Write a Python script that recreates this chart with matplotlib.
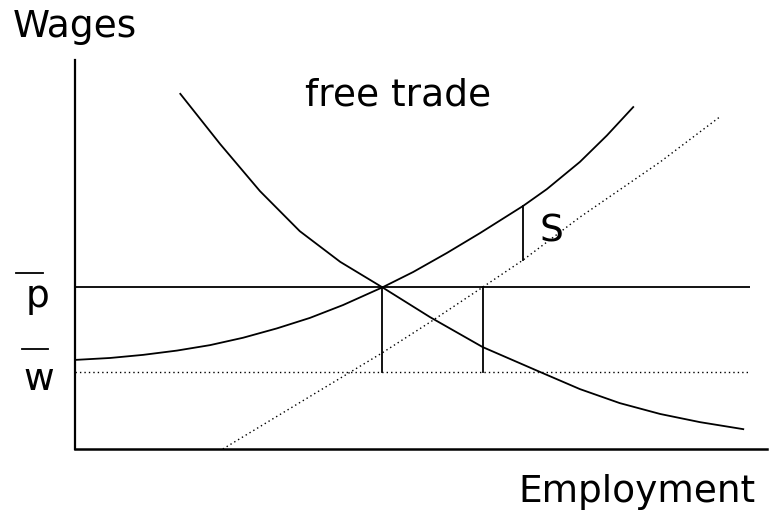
import matplotlib.pyplot as plt
from matplotlib.lines import Line2D

# chart units: employment 0..100 across the axis, wages 0..100 up the axis
supply_x = [0, 5.2, 10.1, 15.1, 20.0, 24.9, 29.9, 34.8, 39.7, 45.6,
            50.1, 55.1, 60.0, 66.4, 69.9, 74.8, 78.8, 82.7]
supply_y = [22.9, 23.4, 24.2, 25.3, 26.7, 28.6, 31.0, 33.7, 37.0, 41.6,
            45.5, 50.4, 55.5, 62.5, 66.8, 73.8, 80.6, 87.9]

demand_x = [15.6, 21.5, 27.4, 33.3, 39.3, 45.5, 52.6, 60.4, 68.9,
            74.8, 80.7, 86.7, 92.6, 99.0]
demand_y = [91.3, 78.4, 66.3, 56.0, 48.1, 41.6, 33.9, 26.2, 19.8,
            15.4, 11.8, 9.0, 6.9, 5.1]

shifted_x = [21.9, 45.5, 52.6, 60.4, 66.4, 74.8, 86.7, 95.7]
shifted_y = [0.0, 24.7, 32.6, 41.6, 48.6, 59.6, 73.8, 85.6]

p_bar = 41.6
w_bar = 19.8
emp_free_trade = 45.5
emp_shifted = 60.4
s_x = 66.4
s_low, s_high = 48.6, 62.5

W, H = 774, 515
fig = plt.figure(figsize=(W / 100, H / 100), dpi=100)
ax = fig.add_axes([75 / W, (H - 449) / H, 675 / W, 389 / H])
ax.set_xlim(0, 100)
ax.set_ylim(0, 100)
ax.axis("off")

lw = 1.3
dots = (0, (1, 2.2))
ax.plot(supply_x, supply_y, color="black", lw=lw)
ax.plot(demand_x, demand_y, color="black", lw=lw)
ax.plot(shifted_x, shifted_y, color="black", lw=1.0, ls=dots)
ax.plot([0, 100], [p_bar, p_bar], color="black", lw=lw)
ax.plot([0, 100], [w_bar, w_bar], color="black", lw=1.0, ls=dots)
ax.plot([emp_free_trade, emp_free_trade], [w_bar, p_bar], color="black", lw=lw)
ax.plot([emp_shifted, emp_shifted], [w_bar, p_bar], color="black", lw=lw)
ax.plot([s_x, s_x], [s_low, s_high], color="black", lw=lw)

# axes
ax.plot([0, 0], [0, 100], color="black", lw=1.6, clip_on=False)
ax.plot([0, 102.5], [0, 0], color="black", lw=1.8, clip_on=False)

font = dict(family="DejaVu Sans", color="black", fontsize=27)


def px(x, y):
    return x / W, (H - y) / H


fig.text(*px(75, 37), "Wages", va="baseline", ha="center", **font)
fig.text(*px(398, 105), "free trade", va="baseline", ha="center", **font)
fig.text(*px(637, 502), "Employment", va="baseline", ha="center", **font)
fig.text(*px(540, 242), "S", va="baseline", **font)
fig.text(*px(26, 307), "p", va="baseline", **font)
fig.text(*px(23, 390), "w", va="baseline", **font)
fig.add_artist(Line2D([16 / W, 43 / W], [(H - 273) / H] * 2, color="black", lw=1.3))
fig.add_artist(Line2D([22 / W, 48 / W], [(H - 349) / H] * 2, color="black", lw=1.3))

fig.savefig("out.png", dpi=100)
